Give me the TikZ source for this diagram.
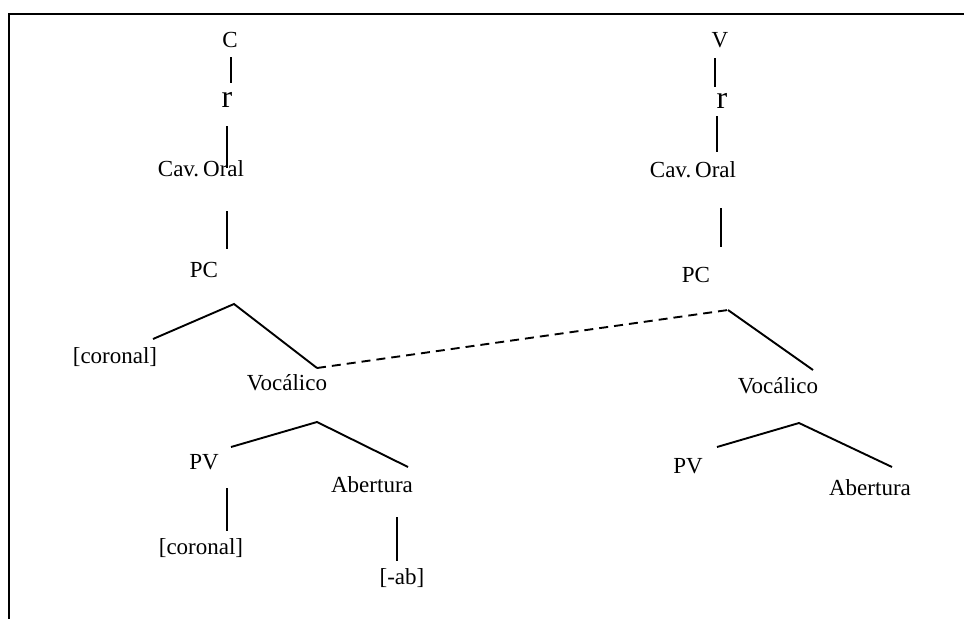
\documentclass[tikz,border=0pt]{standalone}
\usepackage{fontspec}
\setmainfont{Liberation Serif}
\begin{document}
\begin{tikzpicture}[x=1pt,y=-1pt,
  lbl/.style={anchor=base,inner sep=0pt,font=\fontsize{23}{27}\selectfont},
  big/.style={anchor=base,inner sep=0pt,font=\fontsize{32}{36}\selectfont},
  edge/.style={line width=1.9pt},
  dashedge/.style={line width=1.9pt,dash pattern=on 9pt off 6pt}]
\useasboundingbox (0,0) rectangle (964,619);
% frame
\coordinate (f1) at (964,14);
\coordinate (f2) at (9,14);
\coordinate (f3) at (9,619);
\draw[line width=2pt] (f1) -- (f2) -- (f3);

% left tree labels
\node[lbl] (C) at (230,47) {C};
\node[big] (rL) at (227,107) {r};
\node[lbl] (cavL) at (201,176) {Cav.\hspace{4pt}Oral};
\node[lbl] (pcL) at (204,277) {PC};
\node[lbl] (corL) at (115,363) {[coronal]};
\node[lbl] (vocL) at (287,390) {Vocálico};
\node[lbl] (pvL) at (204,469) {PV};
\node[lbl] (abL) at (372,492) {Abertura};
\node[lbl] (cor2) at (201,554) {[coronal]};
\node[lbl] (ab2) at (402,584) {[-ab]};

% right tree labels
\node[lbl] (V) at (720,47) {V};
\node[big] (rR) at (722,108) {r};
\node[lbl] (cavR) at (693,177) {Cav.\hspace{4pt}Oral};
\node[lbl] (pcR) at (696,282) {PC};
\node[lbl] (vocR) at (778,393) {Vocálico};
\node[lbl] (pvR) at (688,473) {PV};
\node[lbl] (abR) at (870,495) {Abertura};

% connector end points, left
\coordinate (a1) at (231,57);  \coordinate (a2) at (231,83);
\coordinate (b1) at (227,126); \coordinate (b2) at (227,168);
\coordinate (c1) at (227,211); \coordinate (c2) at (227,249);
\coordinate (dL) at (153,339); \coordinate (dA) at (234,304); \coordinate (dR) at (317,368);
\coordinate (eL) at (231,447); \coordinate (eA) at (317,422); \coordinate (eR) at (408,467);
\coordinate (g1) at (227,488); \coordinate (g2) at (227,531);
\coordinate (h1) at (397,517); \coordinate (h2) at (397,561);
% right
\coordinate (i1) at (715,58);  \coordinate (i2) at (715,87);
\coordinate (j1) at (717,116); \coordinate (j2) at (717,152);
\coordinate (k1) at (721,208); \coordinate (k2) at (721,247);
\coordinate (mA) at (728,310); \coordinate (mR) at (813,370);
\coordinate (nL) at (717,447); \coordinate (nA) at (799,423); \coordinate (nR) at (892,467);

\draw[edge] (a1) -- (a2);
\draw[edge] (b1) -- (b2);
\draw[edge] (c1) -- (c2);
\draw[edge] (dL) -- (dA) -- (dR);
\draw[edge] (eL) -- (eA) -- (eR);
\draw[edge] (g1) -- (g2);
\draw[edge] (h1) -- (h2);
\draw[dashedge] (dR) -- (mA);
\draw[edge] (i1) -- (i2);
\draw[edge] (j1) -- (j2);
\draw[edge] (k1) -- (k2);
\draw[edge] (mA) -- (mR);
\draw[edge] (nL) -- (nA) -- (nR);
\end{tikzpicture}
\end{document}
